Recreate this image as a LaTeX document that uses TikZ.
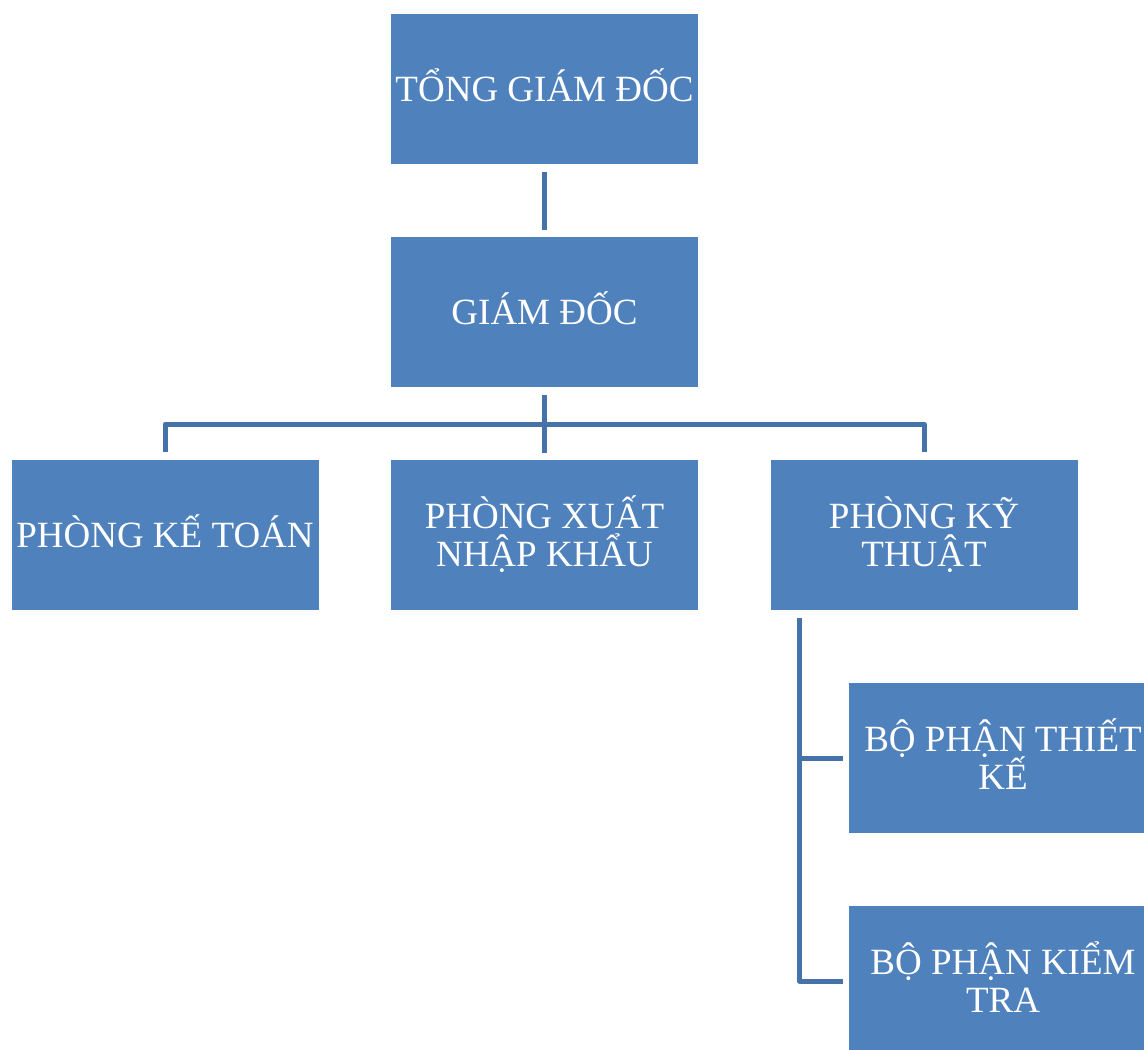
\documentclass[tikz,border=0pt]{standalone}
\usepackage{fontspec}
\setmainfont{Liberation Serif}
\definecolor{boxblue}{HTML}{4F81BD}
\definecolor{lineblue}{HTML}{4672AA}
\newcommand{\tstrutx}{\rule{0pt}{1.1em}}
\newcommand{\bstrutx}{\rule[-0.445em]{0pt}{0.445em}}
\newcommand{\orgfontx}{\fontsize{37}{38}\selectfont\lineskiplimit=-100pt\relax}
\tikzset{
  orgbox/.style={rectangle, fill=boxblue, text=white, minimum width=307pt,
    minimum height=150pt, inner sep=0pt, outer sep=0pt, align=center,
    font=\orgfontx},
  conn/.style={draw=lineblue, line width=5pt, line join=round}
}
\begin{document}
\begin{tikzpicture}[x=1pt,y=-1pt]
\useasboundingbox (0,0) rectangle (1144,1050);
\clip (0,0) rectangle (1144,1050);
\node[orgbox] (tgd) at (544.5,89) {\tstrutx TỔNG GIÁM ĐỐC\bstrutx};
\node[orgbox] (gd) at (544.5,312) {\tstrutx GIÁM ĐỐC\bstrutx};
\node[orgbox] (kt) at (165,535) {\tstrutx PHÒNG KẾ TOÁN\bstrutx};
\node[orgbox] (xnk) at (544.5,535) {\tstrutx PHÒNG XUẤT\\NHẬP KHẨU\bstrutx};
\node[orgbox] (kyt) at (924,535) {\tstrutx PHÒNG KỸ\\THUẬT\bstrutx};
\node[orgbox, minimum width=308pt] (tk) at (1003,758) {\tstrutx BỘ PHẬN THIẾT\\KẾ\bstrutx};
\node[orgbox, minimum width=308pt] (ktr) at (1003,981) {\tstrutx BỘ PHẬN KIỂM\\TRA\bstrutx};
\draw[conn] ([yshift=-8pt]tgd.south) -- ([yshift=7pt]gd.north);
\draw[conn] ([yshift=-8pt]gd.south) -- ([yshift=7pt]xnk.north);
\draw[conn] ([yshift=8pt]kt.north) |- ([yshift=36pt]kyt.north) -- ([yshift=8pt]kyt.north);
\draw[conn] ([xshift=29pt,yshift=-8pt]kyt.south west) |- ([xshift=-6pt]ktr.west);
\draw[conn] ([xshift=29pt]kyt.south west |- tk.west) -- ([xshift=-6pt]tk.west);
\end{tikzpicture}
\end{document}
